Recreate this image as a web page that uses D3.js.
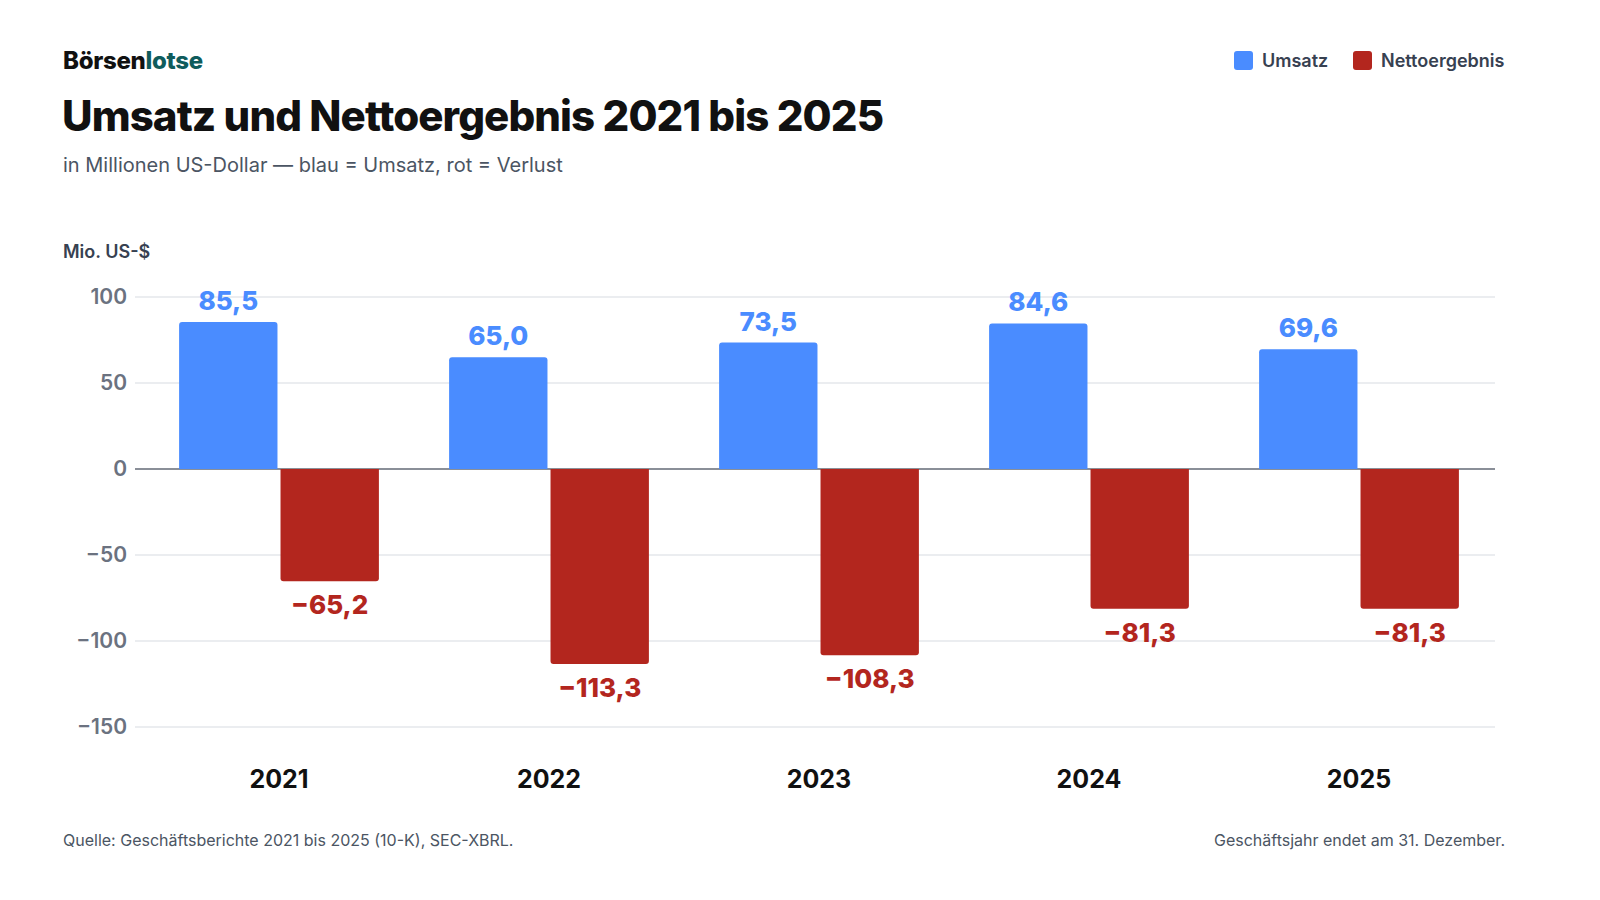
<!DOCTYPE html>
<html>
<head>
<meta charset="utf-8">
<script src="https://cdn.jsdelivr.net/npm/d3@7"></script>
<style>
  html, body { margin: 0; padding: 0; background: #fff; }
  svg { display: block; font-family: Inter, "Noto Sans", sans-serif; }
</style>
</head>
<body>
<div id="chart"></div>
<script>
// data
const years = ["2021", "2022", "2023", "2024", "2025"];
const umsatz = [85.5, 65.0, 73.5, 84.6, 69.6];
const netto = [-65.2, -113.3, -108.3, -81.3, -81.3];
const yTicks = [100, 50, 0, -50, -100, -150];
const seriesNames = ["Umsatz", "Nettoergebnis"];
const seriesColors = ["#4a8cff", "#b3261e"];

const W = 1600, H = 900;
const svg = d3.select("#chart").append("svg")
  .attr("width", W).attr("height", H);

// header
const logo = svg.append("text").attr("x", 63).attr("y", 69)
  .style("font-size", "24px").style("font-weight", 800)
  .style("letter-spacing", "-0.3px");
logo.append("tspan").attr("fill", "#111").text("Börsen");
logo.append("tspan").attr("fill", "#0f5c5c").text("lotse");

svg.append("text").attr("x", 62).attr("y", 131)
  .style("font-size", "42px").style("font-weight", 800)
  .style("letter-spacing", "-0.9px")
  .attr("fill", "#111")
  .text("Umsatz und Nettoergebnis 2021 bis 2025");

svg.append("text").attr("x", 63).attr("y", 172)
  .style("font-size", "20px").attr("fill", "#4b5563")
  .text("in Millionen US-Dollar — blau = Umsatz, rot = Verlust");

svg.append("text").attr("x", 63).attr("y", 258)
  .style("font-size", "18px").style("font-weight", 600).attr("fill", "#374151")
  .text("Mio. US-$");

// legend
const legendX = [1234, 1353];
const lg = svg.append("g").selectAll("g").data(seriesNames).join("g")
  .attr("transform", (d, i) => `translate(${legendX[i]},51)`);
lg.append("rect").attr("width", 19).attr("height", 19).attr("rx", 3)
  .attr("fill", (d, i) => seriesColors[i]);
lg.append("text").attr("x", 28).attr("y", 16)
  .style("font-size", "18px").style("font-weight", 600).attr("fill", "#374151")
  .text(d => d);

// scales
const y = d3.scaleLinear().domain([-150, 100]).range([727, 297]);
const x0 = d3.scaleBand().domain(years).range([144, 1494]).paddingInner(0.26).paddingOuter(0.13);
const x1 = d3.scaleBand().domain([0, 1]).range([0, x0.bandwidth()]).paddingInner(0.03);

// grid
svg.append("g").selectAll("line").data(yTicks).join("line")
  .attr("x1", 135).attr("x2", 1495)
  .attr("y1", d => y(d)).attr("y2", d => y(d))
  .attr("stroke", d => d === 0 ? "#8a8f98" : "#e5e7eb")
  .attr("stroke-width", d => d === 0 ? 2 : 1.5);

// y axis labels
const fmtTick = d => d < 0 ? "\u2212" + Math.abs(d) : String(d);
svg.append("g").selectAll("text").data(yTicks).join("text")
  .attr("x", 127).attr("y", d => y(d)).attr("dy", "0.35em")
  .attr("text-anchor", "end")
  .style("font-size", "21px").style("font-weight", 600).attr("fill", "#6b7280")
  .text(fmtTick);

// x axis labels
svg.append("g").selectAll("text").data(years).join("text")
  .attr("x", d => x0(d) + x0.bandwidth() / 2).attr("y", 788)
  .attr("text-anchor", "middle")
  .style("font-size", "25px").style("font-weight", 700).attr("fill", "#111")
  .text(d => d);

// bars with rounded outer end
const r = 3;
function barPath(xl, w, v) {
  const y0 = y(0), y1 = y(v);
  if (v >= 0) {
    return `M${xl},${y0}V${y1 + r}Q${xl},${y1} ${xl + r},${y1}H${xl + w - r}Q${xl + w},${y1} ${xl + w},${y1 + r}V${y0}Z`;
  }
  return `M${xl},${y0}V${y1 - r}Q${xl},${y1} ${xl + r},${y1}H${xl + w - r}Q${xl + w},${y1} ${xl + w},${y1 - r}V${y0}Z`;
}

const fmtVal = v => (v < 0 ? "\u2212" : "") + Math.abs(v).toFixed(1).replace(".", ",");

const groups = svg.append("g").selectAll("g").data(years).join("g")
  .attr("transform", d => `translate(${x0(d)},0)`);

[umsatz, netto].forEach((vals, s) => {
  groups.append("path")
    .attr("d", (d, i) => barPath(x1(s), x1.bandwidth(), vals[i]))
    .attr("fill", seriesColors[s]);
  groups.append("text")
    .attr("x", x1(s) + x1.bandwidth() / 2)
    .attr("y", (d, i) => vals[i] >= 0 ? y(vals[i]) - 12 : y(vals[i]) + 33)
    .attr("text-anchor", "middle")
    .style("font-size", "26px").style("font-weight", 800)
    .attr("fill", seriesColors[s])
    .text((d, i) => fmtVal(vals[i]));
});

// footer
svg.append("text").attr("x", 63).attr("y", 846)
  .style("font-size", "16px").attr("fill", "#4b5563")
  .text("Quelle: Geschäftsberichte 2021 bis 2025 (10-K), SEC-XBRL.");
svg.append("text").attr("x", 1505).attr("y", 846).attr("text-anchor", "end")
  .style("font-size", "16px").attr("fill", "#4b5563")
  .text("Geschäftsjahr endet am 31. Dezember.");
</script>
</body>
</html>
